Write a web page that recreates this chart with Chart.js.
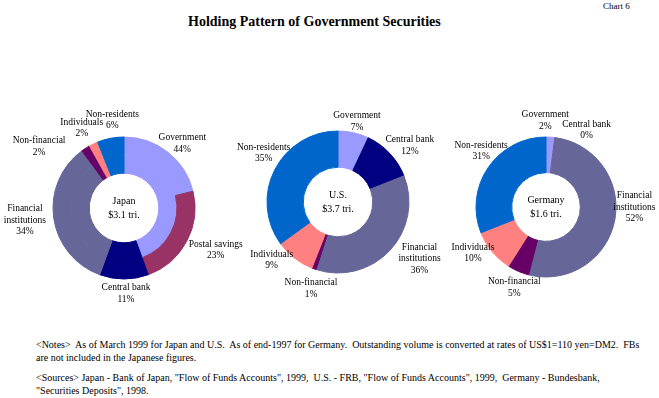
<!DOCTYPE html>
<html>
<head>
<meta charset="utf-8">
<script src="https://cdn.jsdelivr.net/npm/chart.js@4.4.1/dist/chart.umd.min.js"></script>
<style>
  body { margin: 0; width: 659px; height: 398px; background: #fff; position: relative; overflow: hidden;
         font-family: "Liberation Serif", "Times New Roman", serif; color: #000; }
  .txt { position: absolute; white-space: pre; font-size: 10px; line-height: 13px; }
  #title { position: absolute; left: 188px; top: 14px; font-size: 14px; font-weight: bold; white-space: pre; }
  canvas { position: absolute; }
</style>
</head>
<body>
<div class="txt" style="left:603px;top:0px;font-size:9px;">Chart 6</div>
<div id="title">Holding Pattern of Government Securities</div>

<canvas id="japan" width="260" height="220" style="left:-6px;top:98px"></canvas>
<canvas id="us" width="260" height="220" style="left:208px;top:92px"></canvas>
<canvas id="germany" width="260" height="220" style="left:416px;top:97px"></canvas>

<div class="txt" style="left:36px;top:338px;">&lt;Notes&gt;  As of March 1999 for Japan and U.S.  As of end-1997 for Germany.  Outstanding volume is converted at rates of US$1=110 yen=DM2.  FBs</div>
<div class="txt" style="left:36px;top:351px;">are not included in the Japanese figures.</div>
<div class="txt" style="left:36px;top:371px;">&lt;Sources&gt; Japan - Bank of Japan, "Flow of Funds Accounts", 1999,  U.S. - FRB, "Flow of Funds Accounts", 1999,  Germany - Bundesbank,</div>
<div class="txt" style="left:36px;top:384px;">"Securities Deposits", 1998.</div>

<script>
// holders, same order in every country (clockwise from 12 o'clock)
var categories = ['Government', 'Central bank', 'Financial\ninstitutions', 'Non-financial', 'Individuals', 'Non-residents'];
var japanShares = [44, 11, 34, 2, 2, 6];
var japanPostal = 23;          // Postal savings, part of the Government share
var usShares = [7, 12, 36, 1, 9, 35];
var germanyShares = [2, 0, 52, 5, 10, 31];
var centerTexts = {
    japan: ['Japan', '$3.1 tri.'],
    us: ['U.S.', '$3.7 tri.'],
    germany: ['Germany', '$1.6 tri.']
};

var catColors = ['#9999FF', '#000080', '#666699', '#660066', '#FF8080', '#0066CC'];
var postalColor = '#993366';
var FONT = '9.5px "Liberation Serif", "Times New Roman", serif';
var LINE = 11.5;

// hand nudges for the label boxes (Excel best fit moved some of them)
var nudges = {
    japan: [[-4, 5], [0, 0], [2, -3], [-2, -1], [-29, 13], [0, 0], [8, -1]],
    us: [[-3, 6], [-2, 4], [10, -8], [8, 3], [-6, -12], [18, -9]],
    germany: [[-7, 1], [28, 10], [-7, -17], [9, 0], [2, -10], [20, -7]]
};

var sliceLabels = {
    id: 'sliceLabels',
    afterDatasetsDraw: function (chart) {
        var cfg = chart.options.plugins.sliceLabels;
        var meta = chart.getDatasetMeta(0);   // outermost ring
        var ctx = chart.ctx;
        ctx.save();
        ctx.font = FONT;
        ctx.fillStyle = '#000';
        ctx.textAlign = 'center';
        ctx.textBaseline = 'middle';
        meta.data.forEach(function (arc, i) {
            var lines = cfg.names[i].split('\n').concat(cfg.pcts[i] + '%');
            var w = Math.max.apply(null, lines.map(function (l) { return ctx.measureText(l).width; }));
            var h = lines.length * LINE;
            var mid = (arc.startAngle + arc.endAngle) / 2;
            var r = arc.outerRadius + 6;
            var nd = cfg.nudge[i] || [0, 0];
            var bx = arc.x + Math.cos(mid) * r + Math.cos(mid) * w / 2 + nd[0];
            var by = arc.y + Math.sin(mid) * r + Math.sin(mid) * h / 2 + nd[1];
            lines.forEach(function (l, k) {
                ctx.fillText(l, bx, by - h / 2 + LINE * (k + 0.5));
            });
        });
        // country and total in the hole
        var a = meta.data[0];
        ctx.font = '10px "Liberation Serif", "Times New Roman", serif';
        ctx.fillText(cfg.center[0], a.x, a.y - 6.5);
        ctx.fillText(cfg.center[1], a.x, a.y + 7);
        ctx.restore();
    }
};

function makeDonut(id, datasets, names, pcts, radius) {
    var ctx = document.getElementById(id).getContext('2d');
    return new Chart(ctx, {
        type: 'doughnut',
        data: { labels: names, datasets: datasets },
        options: {
            responsive: false,
            animation: false,
            radius: radius,
            cutout: '49%',
            layout: { padding: 0 },
            plugins: {
                legend: { display: false },
                tooltip: { enabled: false },
                sliceLabels: { names: names, pcts: pcts, center: centerTexts[id], nudge: nudges[id] }
            }
        },
        plugins: [sliceLabels]
    });
}

function ring(values, colors) {
    return { data: values, backgroundColor: colors, borderColor: colors, borderWidth: 1 };
}

// Japan: outer ring splits Postal savings out of Government, inner ring = shares
var japanOuter = [japanShares[0] - japanPostal, japanPostal].concat(japanShares.slice(1));
var japanOuterColors = [catColors[0], postalColor].concat(catColors.slice(1));
var japanNames = [categories[0], 'Postal savings'].concat(categories.slice(1));
var japanPcts = [japanShares[0], japanPostal].concat(japanShares.slice(1));
makeDonut('japan', [ring(japanOuter, japanOuterColors), ring(japanShares, catColors)], japanNames, japanPcts, 71);

makeDonut('us', [ring(usShares, catColors)], categories, usShares, 71);
makeDonut('germany', [ring(germanyShares, catColors)], categories, germanyShares, 70);
</script>
</body>
</html>
